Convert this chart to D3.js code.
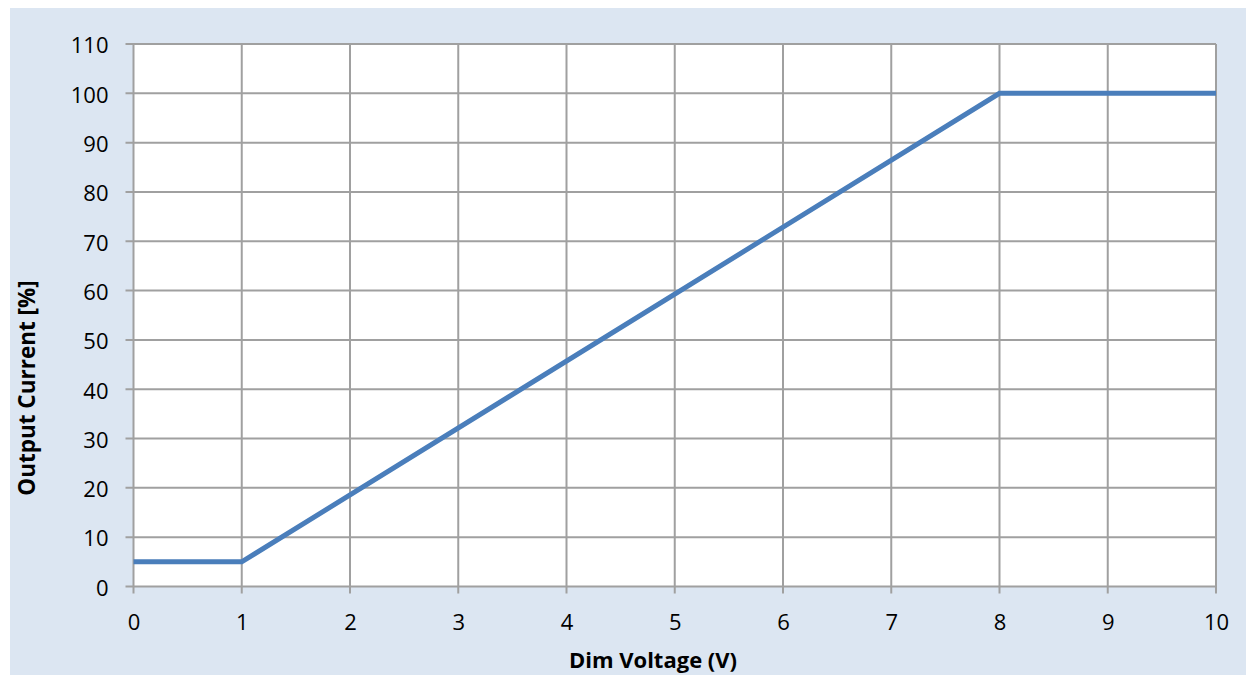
<!DOCTYPE html>
<html><head><meta charset="utf-8">
<script src="https://cdn.jsdelivr.net/npm/d3@7/dist/d3.min.js"></script>
<style>html,body{margin:0;padding:0;background:#fff;}svg{display:block;}</style>
</head><body>
<svg id="c" width="1246" height="675"></svg>
<script>
const voltage = [0, 1, 8, 10];
const current = [5, 5, 100, 100];
const xTicks = [0,1,2,3,4,5,6,7,8,9,10];
const yTicks = [0,10,20,30,40,50,60,70,80,90,100,110];
const xTitle = "Dim Voltage (V)";
const yTitle = "Output Current [%]";

const svg = d3.select("#c");
const W = 1246, H = 675;
svg.append("rect").attr("x",10).attr("y",8).attr("width",W-10).attr("height",H-8).attr("fill","#dce6f2");

const L = 133.5, R = 1216, T = 44, B = 586.5;
const x = d3.scaleLinear().domain([0,10]).range([L,R]);
const y = d3.scaleLinear().domain([0,110]).range([B,T]);

svg.append("rect").attr("x",L).attr("y",T).attr("width",R-L).attr("height",B-T).attr("fill","#fff");

const font = "'Open Sans', sans-serif";
const g = svg.append("g");
g.selectAll(".vg").data(xTicks).join("line")
  .attr("x1",d=>x(d)).attr("x2",d=>x(d)).attr("y1",T).attr("y2",B+7)
  .attr("stroke","#a0a0a0").attr("stroke-width",2);
g.selectAll(".hg").data(yTicks).join("line")
  .attr("y1",d=>y(d)).attr("y2",d=>y(d)).attr("x1",L-8).attr("x2",R)
  .attr("stroke","#a0a0a0").attr("stroke-width",2);

const xAxis = svg.append("g").attr("transform",`translate(0,${B})`)
  .call(d3.axisBottom(x).tickValues(xTicks).tickSize(0).tickPadding(43).tickFormat(d3.format("d")));
xAxis.select(".domain").remove();
xAxis.selectAll("text").attr("font-family",font).attr("font-size",22).attr("fill","#000").attr("dy",0);

const yAxis = svg.append("g").attr("transform",`translate(${L},0)`)
  .call(d3.axisLeft(y).tickValues(yTicks).tickSize(0).tickPadding(25).tickFormat(d3.format("d")));
yAxis.select(".domain").remove();
yAxis.selectAll("text").attr("font-family",font).attr("font-size",22).attr("fill","#000").attr("dy","0.4em");

svg.append("path").datum(voltage.map((v,i)=>[v,current[i]]))
  .attr("d", d3.line().x(d=>x(d[0])).y(d=>y(d[1])))
  .attr("fill","none").attr("stroke","#4a7ebb").attr("stroke-width",5);

svg.append("text").attr("x",653).attr("y",668).attr("text-anchor","middle")
  .attr("font-family",font).attr("font-weight","bold").attr("font-size",22).text(xTitle);
svg.append("text").attr("transform","translate(35,388) rotate(-90)").attr("text-anchor","middle")
  .attr("font-family",font).attr("font-weight","bold").attr("font-size",22.5).text(yTitle);
</script>
</body></html>
